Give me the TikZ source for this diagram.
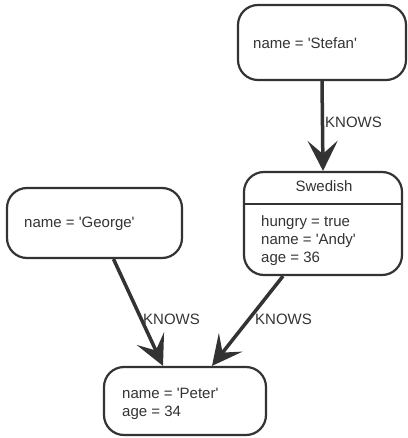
\documentclass[tikz,border=0pt]{standalone}
\usepackage{fontspec}
\setmainfont{Liberation Sans}
\usetikzlibrary{arrows.meta,calc}
\definecolor{ink}{HTML}{333333}
\newcommand\sq{\textquotesingle}
\begin{document}
\begin{tikzpicture}[x=1pt,y=-1pt,
  entity/.style={draw=ink,line width=2.2pt,rounded corners=20pt,inner sep=0pt,fill=white},
  txt/.style={text=ink,inner sep=0pt,font=\fontsize{15pt}{18pt}\selectfont},
  rel/.style={draw=ink,line width=3.5pt,-{Stealth[length=30pt,width=30pt,inset=13pt]}}]
  \useasboundingbox (0,0) rectangle (407,438);

  % boxes
  \node[entity,minimum width=168pt,minimum height=75pt] (stefan) at (322,42.5) {};
  \node[entity,minimum width=158pt,minimum height=103pt] (andy) at (323,223.5) {};
  \node[entity,minimum width=175pt,minimum height=70pt] (george) at (94.5,223) {};
  \node[entity,minimum width=162pt,minimum height=68pt] (peter) at (185,401) {};
  \draw[draw=ink,line width=2.2pt] (andy.west |- 0,204) coordinate (divl) -- (andy.east |- 0,204) coordinate (divr);

  % properties
  \node[txt,anchor=base west] (stefanname) at (253,49) {name = \sq Stefan\sq};
  \node[txt,anchor=base] (andylabel) at (324,192) {Swedish};
  \node[txt,anchor=base west] (andyhungry) at (261,226) {hungry = true};
  \node[txt,anchor=base west] (andyname) at (261,244) {name = \sq Andy\sq};
  \node[txt,anchor=base west] (andyage) at (261,262) {age = 36};
  \node[txt,anchor=base west] (georgename) at (24,227) {name = \sq George\sq};
  \node[txt,anchor=base west] (petername) at (122,398) {name = \sq Peter\sq};
  \node[txt,anchor=base west] (peterage) at (122,416) {age = 34};

  % relationships
  \draw[rel] (stefan.south) -- (andy.north);
  \draw[rel] ($(george.south)+(19,0)$) -- ($(peter.north)+(-22,0)$);
  \draw[rel] ($(andy.south)+(-40,0)$) -- ($(peter.north)+(27,0)$);
  \node[txt,anchor=base west] (k1) at (325,128) {KNOWS};
  \node[txt,anchor=base west] (k2) at (143,324) {KNOWS};
  \node[txt,anchor=base west] (k3) at (255,324) {KNOWS};
\end{tikzpicture}
\end{document}
